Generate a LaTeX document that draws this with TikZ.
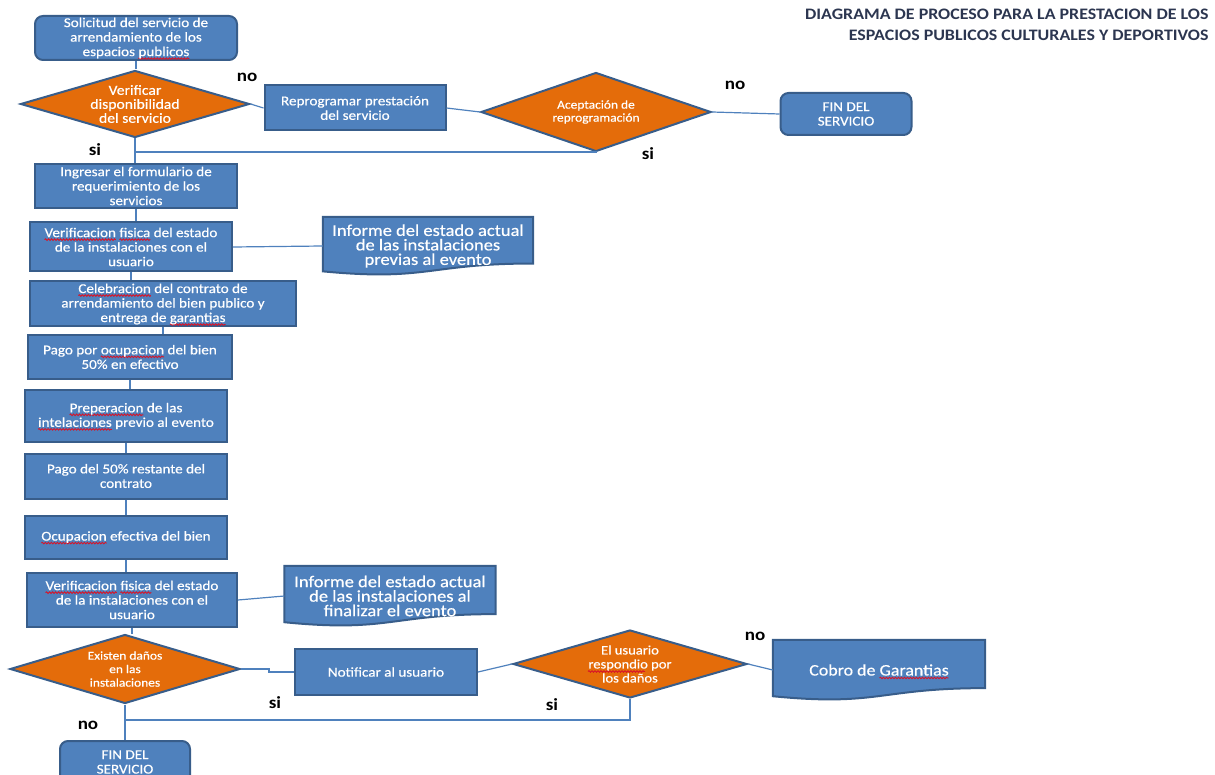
\documentclass[tikz,border=0pt]{standalone}
\usepackage{fontspec}
\setmainfont{Carlito}[FakeStretch=1.12]
\newfontfamily\boxfont{Carlito}[FakeStretch=1.12, FakeBold=0.5]
\usepackage{tikz}
\usetikzlibrary{
arrows.meta,
positioning,
shapes.geometric,
decorations.pathmorphing,
calc,
backgrounds
}
\definecolor{procblue}{HTML}{4F81BD}
\definecolor{procedge}{HTML}{385D8A}
\definecolor{procorange}{HTML}{E46C0A}
\definecolor{titlegray}{RGB}{44,54,80}
\definecolor{spellred}{RGB}{215,20,40}

\tikzset{
  procbox/.style={rectangle, draw=procedge, line width=2pt, fill=procblue, text=white,
    align=center, inner sep=1pt, font=\boxfont\fontsize{13.5}{14.5}\selectfont},
  endbox/.style={procbox, rounded corners=8pt},
  decision/.style={diamond, draw=procedge, line width=2pt, fill=procorange, text=white,
    align=center, inner sep=0pt},
  docbox/.style={text=white, align=center, inner sep=0pt, font=\boxfont\fontsize{16.5}{14.5}\selectfont},
  docshape/.style={draw=procedge, line width=2pt, fill=procblue},
  link/.style={draw=procblue, line width=1.2pt},
  answer/.style={font=\bfseries\fontsize{17}{17}\selectfont},
  squiggle/.style={draw=spellred, line width=0.9pt, sharp corners, decorate,
    decoration={snake, amplitude=0.8pt, segment length=3pt}}
}

% document outline with wavy bottom, drawn round a named node
\newcommand{\docpath}[1]{%
  \path[docshape] (#1.north west) -- (#1.north east)
    -- ($(#1.north east)!0.8!(#1.south east)$)
    .. controls ($(#1.north)!0.8!(#1.south)$) and ($(#1.north)!1.107!(#1.south)$)
    .. ($(#1.north west)!0.934!(#1.south west)$) -- cycle;}

% word with the spell-check underline
\newlength{\errwd}
\newcommand{\spellerr}[1]{\settowidth{\errwd}{#1}%
  \rlap{\tikz[baseline=0pt]\path[squiggle, overlay] (0pt,-2.5pt) -- (\errwd,-2.5pt);}#1}

\begin{document}
\begin{tikzpicture}[x=1pt, y=-1pt]
\useasboundingbox (0,0) rectangle (1215,775);

% Title
\node[anchor=north east, align=right, text=titlegray, font=\bfseries\fontsize{16}{21}\selectfont]
  (titulo) at (1212,5) {DIAGRAMA DE PROCESO PARA LA PRESTACION DE LOS\\ESPACIOS PUBLICOS CULTURALES Y DEPORTIVOS};

% Upper part: request and availability
\node[endbox, minimum width=202pt, minimum height=44pt] (solicitud) at (136,38)
  {Solicitud del servicio de\\arrendamiento de los\\espacios \spellerr{publicos}};
\node[decision, shape aspect=3.3, minimum width=229pt, minimum height=67pt,
  font=\boxfont\fontsize{14}{14}\selectfont] (disponible) at (135,104)
  {Verificar\\disponibilidad\\del servicio};
\node[procbox, minimum width=181pt, minimum height=45pt] (reprog) at (355,108)
  {Reprogramar prestación\\del servicio};
\node[decision, shape aspect=3, minimum width=230pt, minimum height=79pt,
  font=\boxfont\fontsize{12}{13}\selectfont] (acepta) at (596,112)
  {Aceptación de\\reprogramación};
\node[endbox, minimum width=131pt, minimum height=42pt] (fin1) at (846,114) {FIN DEL\\SERVICIO};

% Main column
\node[procbox, minimum width=202pt, minimum height=44pt] (ingreso) at (136,186)
  {Ingresar el formulario de\\requerimiento de los\\servicios};
\node[procbox, minimum width=202pt, minimum height=49pt] (verif1) at (131,247)
  {\spellerr{Verificacion} \spellerr{fisica} del estado\\de la instalaciones con el\\usuario};
\node[docbox, minimum width=210pt, minimum height=58pt] (informe1) at (428,246)
  {Informe del estado actual\\de las instalaciones\\previas al evento};
\node[procbox, minimum width=266pt, minimum height=45pt] (contrato) at (163,304)
  {\spellerr{Celebracion} del contrato de\\arrendamiento del bien publico y\\entrega de \spellerr{garantias}};
\node[procbox, minimum width=204pt, minimum height=44pt] (pago1) at (130,357)
  {Pago por \spellerr{ocupacion} del bien\\50\% en efectivo};
\node[procbox, minimum width=202pt, minimum height=52pt] (prepara) at (126,416)
  {\spellerr{Preperacion} de las\\\spellerr{intelaciones} previo al evento};
\node[procbox, minimum width=202pt, minimum height=45pt] (pago2) at (126,476)
  {Pago del 50\% restante del\\contrato};
\node[procbox, minimum width=202pt, minimum height=43pt] (ocupa) at (126,537)
  {\spellerr{Ocupacion} efectiva del bien};
\node[procbox, minimum width=210pt, minimum height=54pt] (verif2) at (132,600)
  {\spellerr{Verificacion} \spellerr{fisica} del estado\\de la instalaciones con el\\usuario};
\node[docbox, minimum width=211pt, minimum height=60pt] (informe2) at (390,596)
  {Informe del estado actual\\de las instalaciones al\\finalizar el evento};

% Damage check
\node[decision, shape aspect=3, minimum width=230pt, minimum height=69pt,
  font=\boxfont\fontsize{12}{13.5}\selectfont] (danos) at (125,669)
  {Existen daños\\en las\\instalaciones};
\node[procbox, minimum width=182pt, minimum height=46pt] (notifica) at (386,672) {Notificar al usuario};
\node[decision, shape aspect=3, minimum width=234pt, minimum height=68pt,
  font=\boxfont\fontsize{13}{14}\selectfont] (responde) at (630,664)
  {El usuario\\respondio por\\los daños};
\path[squiggle] ([xshift=-42pt, yshift=-7.5pt]responde.center) -- ([xshift=15pt, yshift=-7.5pt]responde.center);
\node[docbox, minimum width=212pt, minimum height=60pt, font=\boxfont\fontsize{16}{16}\selectfont]
  (cobro) at (879,670) {Cobro de \spellerr{Garantias}};
\node[endbox, minimum width=130pt, minimum height=42pt] (fin2) at (125,762) {FIN DEL\\SERVICIO};

% Document outlines
\begin{scope}[on background layer]
\docpath{informe1}
\docpath{informe2}
\docpath{cobro}
\end{scope}

% Connectors
\coordinate (retorno) at (135,152);
\coordinate (cierre) at (125,720);
\draw[link] (solicitud.south) -- (solicitud.south |- disponible.north);
\draw[link] (disponible.east) -- (reprog.west);
\draw[link] (reprog.east) -- (acepta.west);
\draw[link] (acepta.east) -- (fin1.west);
\draw[link] (acepta.south) |- (retorno);
\foreach \a/\b in {disponible/ingreso, ingreso/verif1, verif1/contrato, contrato/pago1,
  pago1/prepara, prepara/pago2, pago2/ocupa, ocupa/verif2, verif2/danos, danos/fin2}
  \draw[link] (\a.south) -- (\a.south |- \b.north);
\draw[link] (verif1.east) -- (informe1.west);
\draw[link] (verif2.east) -- (informe2.west);
\draw[link] (danos.east) -- ++(28,0) |- (notifica.west);
\draw[link] (notifica.east) -- (responde.west);
\draw[link] (responde.east) -- (cobro.west);
\draw[link] (responde.south) |- (cierre);

% Answers
\node[answer] (no1) at (247,77) {no};
\node[answer] (si1) at (95,150) {si};
\node[answer] (no2) at (735,85) {no};
\node[answer] (si2) at (648,154) {si};
\node[answer] (si3) at (275,703) {si};
\node[answer] (si4) at (552,705) {si};
\node[answer] (no3) at (88,725) {no};
\node[answer] (no4) at (755,636) {no};

\end{tikzpicture}
\end{document}
